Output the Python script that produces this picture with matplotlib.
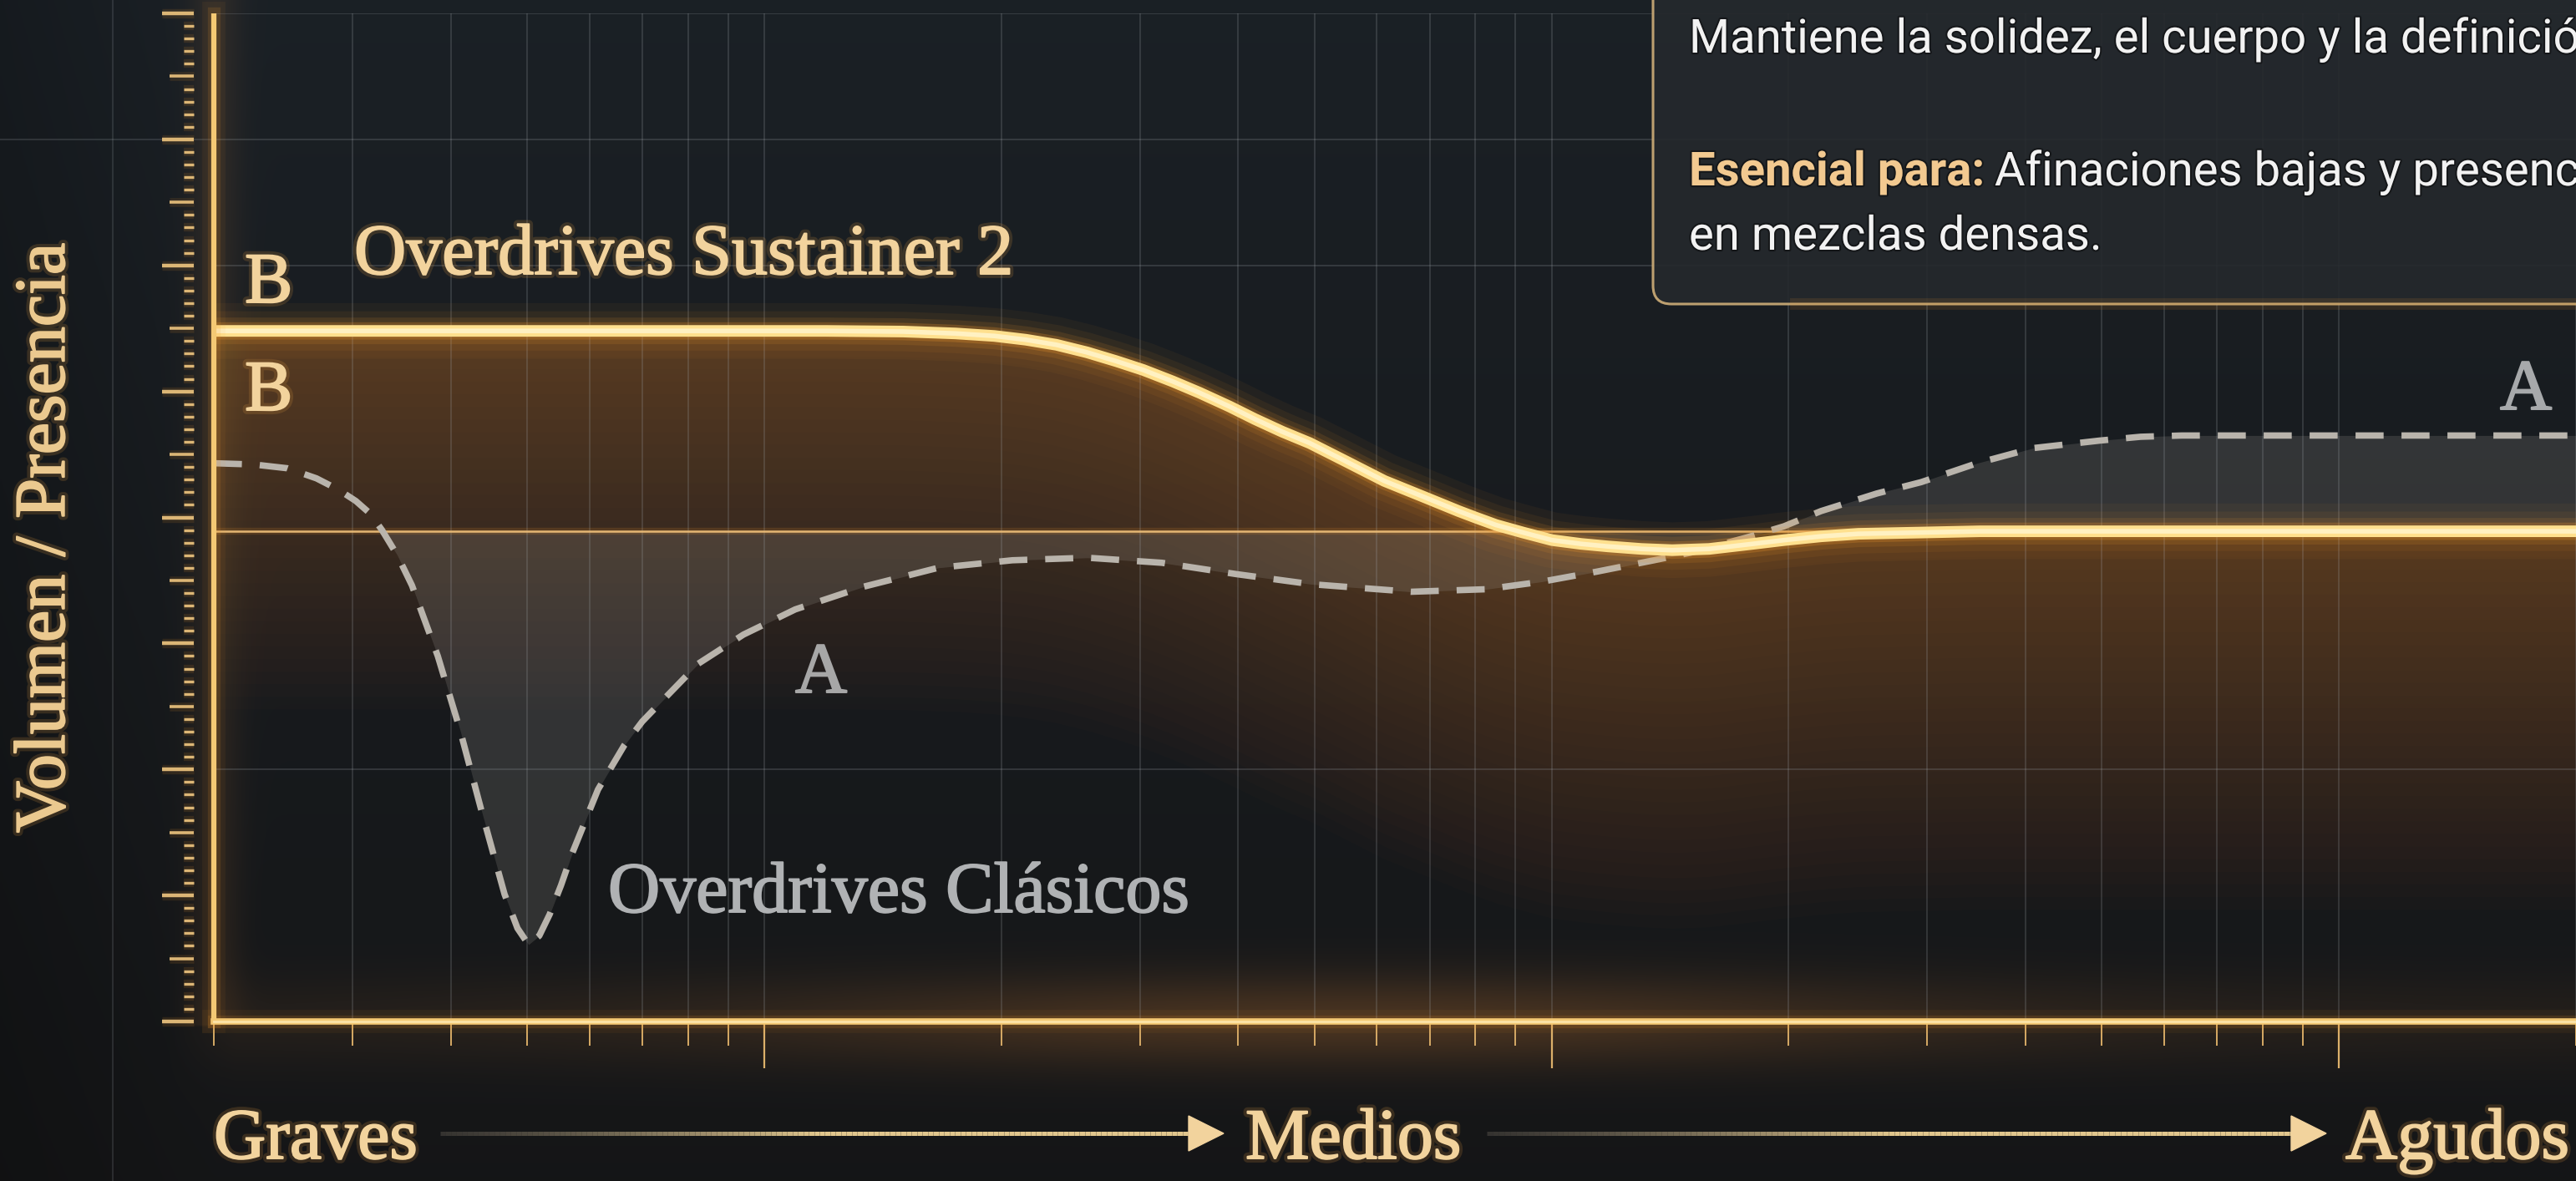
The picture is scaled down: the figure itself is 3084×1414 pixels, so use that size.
import numpy as np
import matplotlib
matplotlib.use('Agg')
import matplotlib.pyplot as plt
from matplotlib.collections import LineCollection
from matplotlib.patches import FancyBboxPatch, Polygon
from matplotlib.lines import Line2D
from matplotlib.transforms import IdentityTransform
from matplotlib.ticker import LogLocator, NullFormatter
from matplotlib import patheffects as pe

W, H = 3084, 1414

# ---- valores (frecuencia en Hz, nivel en unidades de la regla) ----
freq_b = [20, 50, 96, 120, 150, 175, 196, 215, 235, 257, 280, 303, 330, 357, 390, 420,
          455, 493, 550, 613, 690, 762, 800, 850, 920, 1001, 1090, 1179, 1300, 1423,
          1585, 1800, 1974, 2200, 2453, 2947, 3500, 4000, 8000, 20000]
nivel_b = [5.48, 5.48, 5.48, 5.48, 5.475, 5.46, 5.44, 5.41, 5.37, 5.31, 5.24, 5.17, 5.08,
           4.99, 4.88, 4.78, 4.68, 4.59, 4.44, 4.29, 4.16, 4.05, 4.00, 3.94, 3.88, 3.82,
           3.79, 3.77, 3.75, 3.74, 3.75, 3.79, 3.82, 3.85, 3.87, 3.88, 3.89, 3.89, 3.89,
           3.89]

freq_a = [20, 22.5, 24.8, 27, 28.8, 30.3, 31.6, 32.7, 34.2, 35.7, 38.5, 41.1, 43.8, 46.8,
          48.6, 50.2, 51.8, 53.4, 55.2, 57.0, 61.5, 66.4, 70, 74.1, 82.5, 94.1, 109.5,
          133.7, 166.3, 206.6, 257.4, 320, 397.8, 495.4, 662.6, 825.4, 972, 1142, 1349,
          1501, 1768, 1974, 2198, 2589, 2947, 3470, 4088, 4971, 5600, 6312, 10000, 20000]
nivel_a = [4.43, 4.42, 4.39, 4.31, 4.22, 4.13, 4.03, 3.90, 3.70, 3.46, 2.90, 2.31, 1.66,
           1.01, 0.74, 0.61, 0.68, 0.85, 1.08, 1.33, 1.84, 2.19, 2.38, 2.54, 2.84, 3.07,
           3.27, 3.45, 3.60, 3.66, 3.68, 3.64, 3.55, 3.47, 3.41, 3.43, 3.49, 3.57, 3.66,
           3.72, 3.84, 3.93, 4.05, 4.19, 4.28, 4.43, 4.55, 4.61, 4.64, 4.65, 4.65, 4.65]

nivel_ref = 3.89
grid_y = [2, 6, 7, 8]

titulo_b = 'Overdrives Sustainer 2'
titulo_a = 'Overdrives Clásicos'
eje_y = 'Volumen / Presencia'
bandas = ['Graves', 'Medios', 'Agudos']
caja_l1 = 'Mantiene la solidez, el cuerpo y la definición'
caja_neg = 'Esencial para:'
caja_l2 = 'Afinaciones bajas y presencia'
caja_l3 = 'en mezclas densas.'

GOLD_TXT = '#f2d39d'
GOLD_LINE = '#f4c974'
GLOW = '#f0982c'
GRIS_TXT = '#b0b2b4'
SERIF = ['Liberation Serif', 'DejaVu Serif']
SANS = ['Roboto', 'DejaVu Sans']


def fx(px):
    return px / W


def fy(py):
    return 1 - py / H


fig = plt.figure(figsize=(W / 100, H / 100), dpi=100)

# fondo con degradado
bg = fig.add_axes([0, 0, 1, 1], zorder=0)
ys, xs = np.mgrid[0:H:3, 0:W:3].astype(float)
t = ys / H
top = np.array([0.105, 0.127, 0.148])
bot = np.array([0.082, 0.085, 0.090])
img = top * (1 - t[..., None]) + bot * t[..., None]
img *= (0.82 + 0.18 * np.clip(xs / 256, 0, 1))[..., None]
warm = np.array([0.20, 0.11, 0.03])
dentro = np.clip((xs - 200) / 80, 0, 1)
band = np.exp(-((ys - 1223) / 55) ** 2) * (0.25 + 0.75 * np.exp(-((xs - 1620) / 700) ** 2)) * dentro
img += warm * band[..., None]
side = np.exp(-((xs - 256) / 30) ** 2) * (ys < 1230)
img += warm * 0.4 * side[..., None]
bg.imshow(np.clip(img, 0, 1), extent=[0, W, H, 0], aspect='auto', interpolation='bilinear')
bg.set_xlim(0, W)
bg.set_ylim(H, 0)
bg.axis('off')
bg.axvline(135, color='#8a9096', lw=1.2, alpha=0.25)

# ejes principales
ax = fig.add_axes([fx(256), 1 - 1223 / H, (W - 256) / W, (1223 - 16) / H], zorder=1)
ax.set_facecolor('none')
ax.set_xscale('log')
ax.set_xlim(20, 20000)
ax.set_ylim(0, 8)
for s in ax.spines.values():
    s.set_visible(False)
ax.set_yticks([])
ax.xaxis.set_minor_locator(LogLocator(base=10, subs=np.arange(2, 10), numticks=30))
ax.xaxis.set_major_formatter(NullFormatter())
ax.xaxis.set_minor_formatter(NullFormatter())
ax.tick_params(axis='x', which='major', length=40, width=1.6, color='#dcb06a', direction='out')
ax.tick_params(axis='x', which='minor', length=21, width=1.4, color='#d6aa66', direction='out')
ax.grid(True, which='both', axis='x', color='#a4aab0', alpha=0.24, lw=1.2)
for gy in grid_y:
    ax.axhline(gy, color='#a4aab0', alpha=0.24, lw=1.2)
ax.axhline(7, xmin=-0.095, xmax=0, color='#a4aab0', alpha=0.22, lw=1.2, clip_on=False)

fb = np.array(freq_b)
nb = np.array(nivel_b)
fa = np.array(freq_a)
na = np.array(nivel_a)

# resplandor ambar bajo la curva B
for i in range(1, 31):
    ax.fill_between(fb, nb - i * 0.1, nb, color='#bc762c', alpha=0.021, lw=0)

# relleno gris entre A y la referencia
ax.fill_between(fa, na, nivel_ref, where=(na <= nivel_ref) | (fa > 1000),
                interpolate=True, color='#a09c96', alpha=0.2, lw=0)

# linea de referencia
ax.axhline(nivel_ref, color=GLOW, lw=6, alpha=0.15)
ax.axhline(nivel_ref, color='#ecbd78', lw=1.8, alpha=0.95)

# curva A discontinua
ax.plot(fa, na, color='#b9b4ac', lw=5.5, dashes=(4.4, 2.8), dash_capstyle='butt', zorder=4)

# curva B con brillo
for lw, a in [(48, 0.05), (34, 0.07), (23, 0.12), (15, 0.24)]:
    ax.plot(fb, nb, color=GLOW, lw=lw, alpha=a, solid_capstyle='butt', zorder=5)
ax.plot(fb, nb, color='#ffe08e', lw=10, zorder=6, solid_capstyle='butt')
ax.plot(fb, nb, color='#fff1c2', lw=4, zorder=6, solid_capstyle='butt')

# ejes dorados con brillo
for lw, a in [(20, 0.06), (11, 0.14)]:
    ax.plot([20, 20], [0, 8], color=GLOW, lw=lw, alpha=a, clip_on=False, zorder=7)
    ax.plot([20, 20000], [0, 0], color=GLOW, lw=lw, alpha=a, clip_on=False, zorder=7)
ax.plot([20, 20], [0, 8], color=GOLD_LINE, lw=4.5, clip_on=False, zorder=8,
        solid_capstyle='butt')
ax.plot([20, 20000], [0, 0], color=GOLD_LINE, lw=5.5, clip_on=False, zorder=8)
ax.plot([20, 20000], [0, 0], color='#fbe3a8', lw=2, clip_on=False, zorder=8)

# regla vertical
segs_l, segs_m, segs_s = [], [], []
for k in range(81):
    yv = k / 10
    if k % 10 == 0:
        segs_l.append([(-0.0219, yv), (-0.0085, yv)])
    elif k % 5 == 0:
        segs_m.append([(-0.0187, yv), (-0.0085, yv)])
    else:
        segs_s.append([(-0.0127, yv), (-0.0085, yv)])
tr = ax.get_yaxis_transform()
for segs, lw in [(segs_l, 3.2), (segs_m, 2.6), (segs_s, 2.4)]:
    ax.add_collection(LineCollection(segs, colors=GLOW, linewidths=lw + 5, alpha=0.12,
                                     transform=tr, clip_on=False))
    ax.add_collection(LineCollection(segs, colors='#dcb676', linewidths=lw,
                                     transform=tr, clip_on=False))


# textos serif (un trazo fino del mismo color los engrosa un poco)
def efecto(color, brillo=True):
    fx_list = []
    if brillo:
        fx_list.append(pe.Stroke(linewidth=7, foreground='#e09a40', alpha=0.18))
    fx_list += [pe.Stroke(linewidth=1.4, foreground=color), pe.Normal()]
    return fx_list


serif_kw = dict(family=SERIF, fontsize=62, va='baseline', ha='left', zorder=10)
fig.text(fx(293), fy(362), 'B', color=GOLD_TXT, path_effects=efecto(GOLD_TXT), **serif_kw)
fig.text(fx(293), fy(491), 'B', color=GOLD_TXT, path_effects=efecto(GOLD_TXT), **serif_kw)
fig.text(fx(424), fy(328), titulo_b, color=GOLD_TXT, path_effects=efecto(GOLD_TXT), **serif_kw)
fig.text(fx(952), fy(829), 'A', color='#a7a7a7', path_effects=efecto('#a7a7a7', False),
         **serif_kw)
fig.text(fx(2993), fy(490), 'A', color='#a7a9ab', path_effects=efecto('#a7a9ab', False),
         **serif_kw)
fig.text(fx(728), fy(1092), titulo_a, color=GRIS_TXT, path_effects=efecto(GRIS_TXT, False),
         **serif_kw)
x_bandas = [256, 1491, 2808]
for xb, nombre in zip(x_bandas, bandas):
    fig.text(fx(xb), fy(1387), nombre, color=GOLD_TXT, path_effects=efecto(GOLD_TXT),
             **serif_kw)
fig.text(fx(56), fy(644), eje_y, rotation=90, ha='center', va='center', color='#ebc98f',
         family=SERIF, fontsize=62, path_effects=efecto('#ebc98f'))


def flecha(x0, x1, y):
    n = 140
    xv = np.linspace(x0, x1 - 30, n + 1)
    segs = [[(fx(xv[i]), fy(y)), (fx(xv[i + 1]), fy(y))] for i in range(n)]
    a = np.clip(np.linspace(0, 1, n) / 0.5, 0, 1)
    cols = [(0.45 + 0.48 * v, 0.42 + 0.40 * v, 0.38 + 0.20 * v, 0.35 + 0.6 * v) for v in a]
    fig.add_artist(LineCollection(segs, colors=cols, linewidths=3.6,
                                  transform=fig.transFigure, zorder=9))
    fig.add_artist(Polygon([(fx(x1), fy(y)), (fx(x1 - 42), fy(y - 21)), (fx(x1 - 42), fy(y + 21))],
                           closed=True, transform=fig.transFigure, color=GOLD_TXT, zorder=9))


flecha(527, 1465, 1357)
flecha(1780, 2785, 1357)

# caja de texto superior derecha
caja = FancyBboxPatch((1979, H - 364), 1300, 600, boxstyle='round,pad=0,rounding_size=22',
                      transform=IdentityTransform(), facecolor='#25292d', alpha=0.9,
                      edgecolor='#cfae78', lw=2.2, zorder=11)
fig.add_artist(caja)
fig.add_artist(Line2D([fx(2150), fx(3084)], [fy(364), fy(364)], lw=10, color=GLOW,
                      alpha=0.12, transform=fig.transFigure, zorder=11))
sombra = [pe.Stroke(linewidth=3, foreground='#0c0d0e', alpha=0.6), pe.Normal()]
sans_kw = dict(family=SANS, fontsize=40.5, va='baseline', ha='left', zorder=12,
               path_effects=sombra)
fig.text(fx(2022), fy(63), caja_l1, color='#f2f2f2', **sans_kw)
t_neg = fig.text(fx(2022), fy(222), caja_neg, color='#f2c990', weight='bold', **sans_kw)
fig.text(fx(2022), fy(299), caja_l3, color='#f2f2f2', **sans_kw)
fig.canvas.draw()
bb = t_neg.get_window_extent()
fig.text((bb.x1 + 12) / W, fy(222), caja_l2, color='#f2f2f2', **sans_kw)

fig.savefig('out.png', dpi=100)
